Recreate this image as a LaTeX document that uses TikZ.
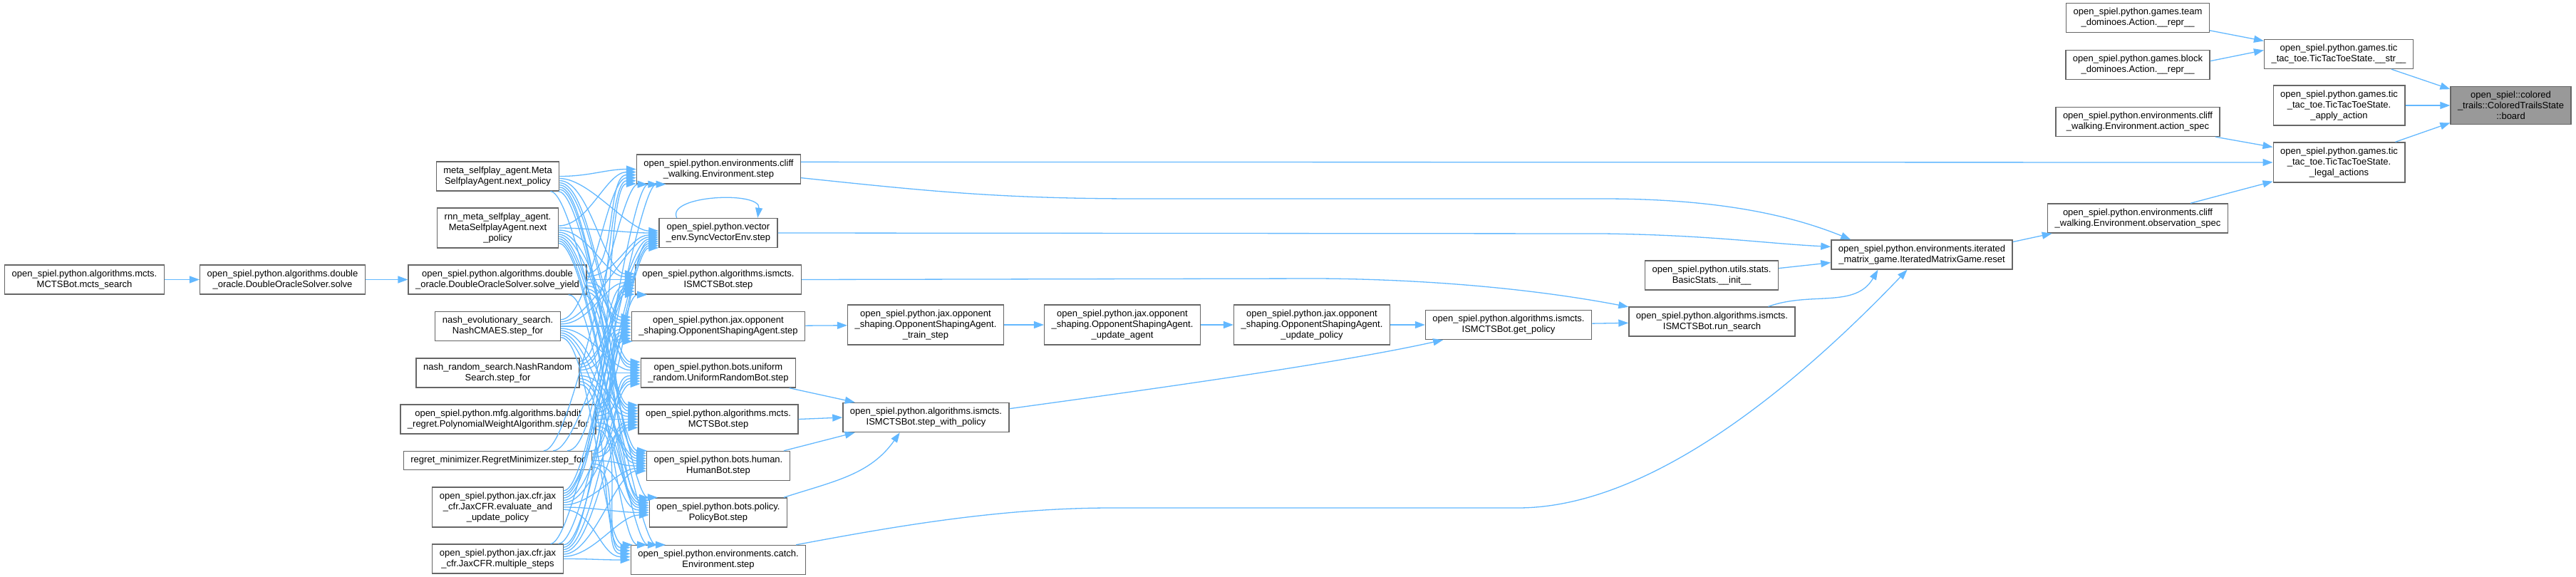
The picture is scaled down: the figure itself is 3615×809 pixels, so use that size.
\documentclass[tikz,border=0pt]{standalone}
\usepackage{fontspec}
\setmainfont{Liberation Sans}
\usepackage{tikz}
\usetikzlibrary{arrows.meta}

\definecolor{edgeblue}{HTML}{63B8FF}
\definecolor{nodeline}{HTML}{666666}
\definecolor{nodegrey}{HTML}{999999}

\begin{document}
\begin{tikzpicture}[x=1pt,y=1pt,
		>={Triangle[length=14pt,width=10pt]},
		every node/.style={font=\fontsize{13}{15}\selectfont},
		fn/.style={draw=nodeline,line width=1.3pt,fill=white,align=center,inner xsep=10pt,inner ysep=7pt},
		current/.style={fn,fill=nodegrey},
		call/.style={->,draw=edgeblue,line width=1.3pt},
		]
		
		\useasboundingbox (0,0) rectangle (3615,-809);
		
		% Search entry points
		\node[fn] (mcts) at (118.5,-392.5) {open\_spiel.python.algorithms.mcts.\\MCTSBot.mcts\_search};
		\node[fn] (dos) at (396.5,-392.5) {open\_spiel.python.algorithms.double\\\_oracle.DoubleOracleSolver.solve};
		
		% Callers of the step methods
		\node[fn] (msa) at (698.5,-247.5) {meta\_selfplay\_agent.Meta\\SelfplayAgent.next\_policy};
		\node[fn] (rnn) at (698.5,-320) {rnn\_meta\_selfplay\_agent.\\MetaSelfplayAgent.next\\\_policy};
		\node[fn] (doy) at (698,-392.5) {open\_spiel.python.algorithms.double\\\_oracle.DoubleOracleSolver.solve\_yield};
		\node[fn] (nes) at (698.5,-458) {nash\_evolutionary\_search.\\NashCMAES.step\_for};
		\node[fn] (nrs) at (698.5,-523.5) {nash\_random\_search.NashRandom\\Search.step\_for};
		\node[fn] (pwa) at (699,-588.5) {open\_spiel.python.mfg.algorithms.bandit\\\_regret.PolynomialWeightAlgorithm.step\_for};
		\node[fn] (rgm) at (698.5,-646.5) {regret\_minimizer.RegretMinimizer.step\_for};
		\node[fn] (jev) at (698.5,-712) {open\_spiel.python.jax.cfr.jax\\\_cfr.JaxCFR.evaluate\_and\\\_update\_policy};
		\node[fn] (jms) at (698.5,-784.5) {open\_spiel.python.jax.cfr.jax\\\_cfr.JaxCFR.multiple\_steps};
		
		% Step methods
		\node[fn] (cws) at (1008.5,-237.5) {open\_spiel.python.environments.cliff\\\_walking.Environment.step};
		\node[fn] (vec) at (1008,-327) {open\_spiel.python.vector\\\_env.SyncVectorEnv.step};
		\node[fn] (iss) at (1008,-392.5) {open\_spiel.python.algorithms.ismcts.\\ISMCTSBot.step};
		\node[fn] (oss) at (1008,-458) {open\_spiel.python.jax.opponent\\\_shaping.OpponentShapingAgent.step};
		\node[fn] (urb) at (1008,-523.5) {open\_spiel.python.bots.uniform\\\_random.UniformRandomBot.step};
		\node[fn] (mbs) at (1008,-588.5) {open\_spiel.python.algorithms.mcts.\\MCTSBot.step};
		\node[fn] (hbs) at (1008,-654) {open\_spiel.python.bots.human.\\HumanBot.step};
		\node[fn] (pbs) at (1008,-719.5) {open\_spiel.python.bots.policy.\\PolicyBot.step};
		\node[fn] (ces) at (1008,-786) {open\_spiel.python.environments.catch.\\Environment.step};
		
		% Opponent shaping and ISMCTS chain
		\node[fn] (tst) at (1299,-456) {open\_spiel.python.jax.opponent\\\_shaping.OpponentShapingAgent.\\\_train\_step};
		\node[fn] (swp) at (1299.5,-586) {open\_spiel.python.algorithms.ismcts.\\ISMCTSBot.step\_with\_policy};
		\node[fn] (uag) at (1575,-456) {open\_spiel.python.jax.opponent\\\_shaping.OpponentShapingAgent.\\\_update\_agent};
		\node[fn] (upo) at (1841,-456) {open\_spiel.python.jax.opponent\\\_shaping.OpponentShapingAgent.\\\_update\_policy};
		\node[fn] (gpo) at (2117,-456) {open\_spiel.python.algorithms.ismcts.\\ISMCTSBot.get\_policy};
		\node[fn] (bst) at (2402,-386.5) {open\_spiel.python.utils.stats.\\BasicStats.\_\_init\_\_};
		\node[fn] (rse) at (2402.5,-451.5) {open\_spiel.python.algorithms.ismcts.\\ISMCTSBot.run\_search};
		\node[fn] (rst) at (2697,-357.5) {open\_spiel.python.environments.iterated\\\_matrix\_game.IteratedMatrixGame.reset};
		
		% Right hand side
		\node[fn] (tdr) at (3000,-25) {open\_spiel.python.games.team\\\_dominoes.Action.\_\_repr\_\_};
		\node[fn] (bdr) at (3000,-91) {open\_spiel.python.games.block\\\_dominoes.Action.\_\_repr\_\_};
		\node[fn] (asp) at (3000,-171) {open\_spiel.python.environments.cliff\\\_walking.Environment.action\_spec};
		\node[fn] (osp) at (3000,-306.5) {open\_spiel.python.environments.cliff\\\_walking.Environment.observation\_spec};
		\node[fn] (str) at (3282,-76) {open\_spiel.python.games.tic\\\_tac\_toe.TicTacToeState.\_\_str\_\_};
		\node[fn] (apa) at (3282.5,-148) {open\_spiel.python.games.tic\\\_tac\_toe.TicTacToeState.\\\_apply\_action};
		\node[fn] (leg) at (3282.5,-228) {open\_spiel.python.games.tic\\\_tac\_toe.TicTacToeState.\\\_legal\_actions};
		\node[current] (brd) at (3523.5,-148) {open\_spiel::colored\\\_trails::ColoredTrailsState\\::board};
		
		% Left chain
		\draw[call] (mcts) -- (dos);
		\draw[call] (dos) -- (doy);
		
		% Every caller reaches every step method
		\foreach \s [count=\i] in {msa,rnn,doy,nes,nrs,pwa,rgm,jev,jms}
		\foreach \t [count=\j] in {cws,vec,iss,oss,urb,mbs,hbs,pbs,ces} {
			\pgfmathtruncatemacro\sa{-2*(\j-\i)}
			\pgfmathtruncatemacro\ta{180-2*(\j-\i)}
			\draw[call] (\s.\sa) .. controls +(42,0) and +(-42,0) .. (\t.\ta);
		}
		\draw[call] (vec.160) .. controls +(-15,32) and +(5,38) .. (vec.21);
		
		% Middle
		\draw[call] (oss) -- (tst);
		\draw[call] (tst) -- (uag);
		\draw[call] (uag) -- (upo);
		\draw[call] (upo) -- (gpo);
		\draw[call] (gpo) -- (rse);
		\draw[call] (urb.-12) -- (swp.168);
		\draw[call] (mbs.east) -- (swp.west);
		\draw[call] (hbs.13) -- (swp.192);
		\draw[call] (pbs.13) to[out=18,in=235] (swp.210);
		\draw[call] (swp.6) .. controls (1700,-535) and (1900,-505) .. (gpo.193);
		\draw[call] (iss.east) -- (1850,-391) .. controls (2000,-392) and (2150,-405) .. (rse.170);
		
		% Towards reset
		\draw[call] (cws.-6) .. controls (1300,-268) and (1400,-279) .. (1600,-279) -- (2250,-279)
		.. controls (2420,-279) and (2520,-305) .. (rst.168);
		\draw[call] (vec.east) -- (2250,-328) .. controls (2400,-330) and (2480,-342) .. (rst.175);
		\draw[call] (ces.11) .. controls (1250,-740) and (1400,-713) .. (1560,-713) -- (2130,-713)
		.. controls (2330,-713) and (2547,-514) .. (rst.226);
		\draw[call] (bst.6) -- (rst.185);
		\draw[call] (rse.15) to[out=20,in=240] (rst.199);
		
		% Right
		\draw[call] (rst.8) -- (osp.190);
		\draw[call] (cws.5) -- (leg.west);
		\draw[call] (asp.-11) -- (leg.167);
		\draw[call] (osp.16) -- (leg.196);
		\draw[call] (tdr.-10) -- (str.170);
		\draw[call] (bdr.3) -- (str.177);
		\draw[call] (str.-16) -- (brd.165);
		\draw[call] (apa) -- (brd);
		\draw[call] (leg.20) -- (brd.196);
		
	\end{tikzpicture}
\end{document}
